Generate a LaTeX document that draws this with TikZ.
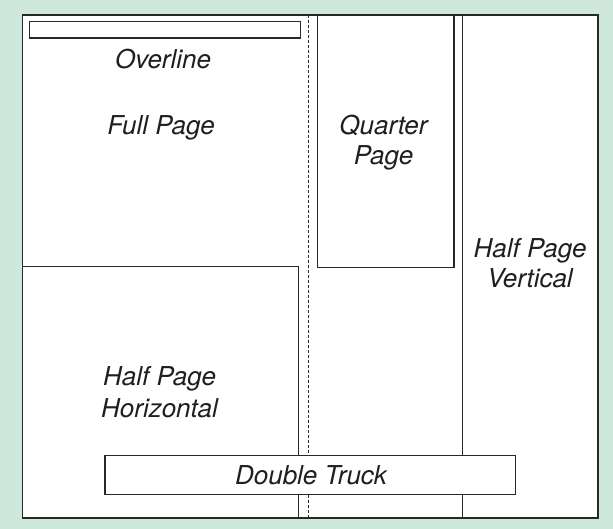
\documentclass[tikz,border=0pt]{standalone}
\usepackage{fontspec}
\setmainfont{TeX Gyre Heros}
\definecolor{bgGreen}{RGB}{206,232,219}
\definecolor{lineGray}{RGB}{40,40,40}
\tikzset{
  pagebox/.style={draw=lineGray, line width=1.3pt, fill=white},
  rule/.style={draw=lineGray, line width=1.3pt},
  gutter/.style={draw=lineGray, line width=1pt, dash pattern=on 3pt off 2pt},
  lbl/.style={font=\fontsize{26}{31}\selectfont\itshape, text=black!88, inner sep=0pt, anchor=base}
}
\begin{document}
\begin{tikzpicture}[x=1pt,y=-1pt]
\useasboundingbox (0,0) rectangle (613,529);
\fill[bgGreen] (0,0) rectangle (613,529);
% outer page
\path[pagebox] (22.3,15) rectangle (598,518);
% gutter
\coordinate (gtop) at (308.5,15);
\coordinate (gbot) at (308.5,518);
\draw[gutter] (gtop) -- (gbot);
% quarter page
\node[pagebox, minimum width=136.6pt, minimum height=251.7pt, anchor=north west, inner sep=0pt] (quarter) at (316.7,15) {};
\node[lbl] (q1) at (383.5,135) {Quarter};
\node[lbl] (q2) at (383.5,165) {Page};
% half page vertical
\coordinate (hvtop) at (462.7,15);
\coordinate (hvbot) at (462.7,518);
\draw[rule] (hvtop) -- (hvbot);
\node[lbl] (v1) at (530,258) {Half Page};
\node[lbl] (v2) at (530,287.5) {Vertical};
% half page horizontal
\coordinate (hhl) at (22.3,266.7);
\coordinate (hhc) at (298.3,266.7);
\coordinate (hhb) at (298.3,518);
\draw[rule] (hhl) -- (hhc) -- (hhb);
\node[lbl] (h1) at (159.5,385.5) {Half Page};
\node[lbl] (h2) at (159.5,417) {Horizontal};
% overline
\node[pagebox, minimum width=271.3pt, minimum height=16.6pt, anchor=north west, inner sep=0pt] (overline) at (28.7,20.7) {};
\node[lbl] (ol) at (163,68.3) {Overline};
\node[lbl] (fp) at (161,134.3) {Full Page};
% double truck
\node[pagebox, minimum width=410.7pt, minimum height=39pt, anchor=north west, inner sep=0pt] (truck) at (104.3,455) {};
\node[lbl] (dt) at (311,484) {Double Truck};
\end{tikzpicture}
\end{document}
